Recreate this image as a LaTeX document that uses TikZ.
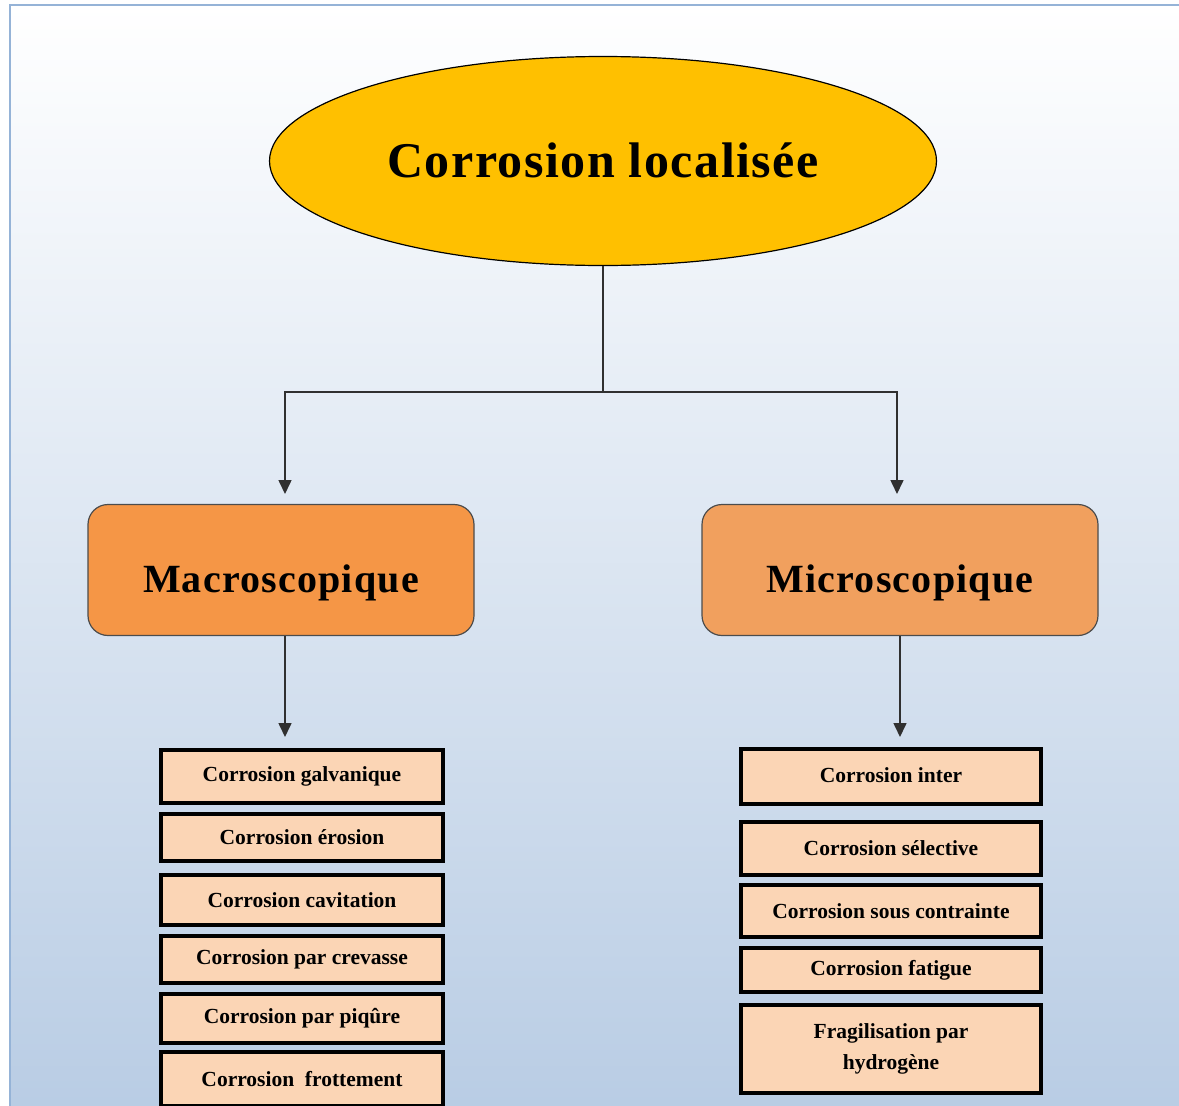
\documentclass[tikz,border=0pt]{standalone}
\usepackage{fontspec}
\setmainfont{Liberation Serif}
\usetikzlibrary{shapes.geometric,arrows.meta}
\definecolor{topfill}{HTML}{FFC000}
\definecolor{macrofill}{HTML}{F59646}
\definecolor{microfill}{HTML}{F1A05E}
\definecolor{itemfill}{HTML}{FBD5B5}
\definecolor{framecol}{HTML}{95B3D7}
\definecolor{bgbottom}{HTML}{B8CCE4}
\definecolor{linecol}{HTML}{303030}
\newfontfamily\spacedfont[LetterSpace=3]{Liberation Serif}
\tikzset{
  topell/.style={ellipse, draw=black, line width=1.2pt, fill=topfill, inner sep=0pt,
    minimum width=667pt, minimum height=209pt, font=\spacedfont\fontsize{50}{60}\selectfont\bfseries},
  catbox/.style={rectangle, rounded corners=20pt, draw=black!70, line width=1.2pt, inner sep=0pt,
    minimum height=131pt, font=\spacedfont\fontsize{40}{48}\selectfont\bfseries},
  itembox/.style={rectangle, draw=black, line width=4pt, fill=itemfill, inner sep=0pt,
    align=center, font=\fontsize{21.5}{31}\selectfont\bfseries},
  conn/.style={draw=linecol, line width=1.6pt},
  arr/.style={conn, -{Triangle[width=13pt,length=14pt]}}
}
\begin{document}
\begin{tikzpicture}[x=1pt,y=-1pt]
\useasboundingbox (0,0) rectangle (1179,1106);
\clip (0,0) rectangle (1179,1106);
\fill[white] (0,0) rectangle (1179,1106);
\shade[top color=white, bottom color=bgbottom, middle color=white!50!bgbottom] (10,5) rectangle (1200,1120);
\draw[framecol, line width=2pt] (10,1120) -- (10,5) -- (1200,5);

\node[topell] (top) at (603,161) {\raisebox{-16pt}[0pt][0pt]{Corrosion localisée}};

\node[catbox, fill=macrofill, minimum width=386pt] (macro) at (281,570) {\raisebox{-22pt}[0pt][0pt]{Macroscopique}};
\node[catbox, fill=microfill, minimum width=396pt] (micro) at (900,570) {\raisebox{-22pt}[0pt][0pt]{Microscopique}};

% left items
\node[itembox, minimum width=282pt, minimum height=53pt] (l1) at (302,776.5) {\raisebox{3pt}{Corrosion galvanique}};
\node[itembox, minimum width=282pt, minimum height=47pt] (l2) at (302,837.5) {Corrosion érosion};
\node[itembox, minimum width=282pt, minimum height=50pt] (l3) at (302,900) {Corrosion cavitation};
\node[itembox, minimum width=282pt, minimum height=47pt] (l4) at (302,959.5) {Corrosion par crevasse};
\node[itembox, minimum width=282pt, minimum height=49pt] (l5) at (302,1018.5) {Corrosion par piqûre};
\node[itembox, minimum width=282pt, minimum height=54pt] (l6) at (302,1079) {Corrosion\ \ frottement};

% right items
\node[itembox, minimum width=300pt, minimum height=55pt] (r1) at (891,776.5) {\raisebox{2pt}{Corrosion inter}};
\node[itembox, minimum width=300pt, minimum height=53pt] (r2) at (891,848.5) {Corrosion sélective};
\node[itembox, minimum width=300pt, minimum height=52pt] (r3) at (891,911) {Corrosion sous contrainte};
\node[itembox, minimum width=300pt, minimum height=44pt] (r4) at (891,970) {Corrosion fatigue};
\node[itembox, minimum width=300pt, minimum height=88pt] (r5) at (891,1049) {Fragilisation par\\hydrogène};

% connectors
\coordinate (split) at (603,392);
\coordinate (mtip) at (285,494);
\coordinate (ntip) at (897,494);
\coordinate (ltip) at (285,737);
\coordinate (rtip) at (900,737);
\draw[conn] (top.south) -- (split);
\draw[arr] (split) -| (mtip);
\draw[arr] (split) -| (ntip);
\draw[arr] (macro.south -| ltip) -- (ltip);
\draw[arr] (micro.south -| rtip) -- (rtip);
\end{tikzpicture}
\end{document}
